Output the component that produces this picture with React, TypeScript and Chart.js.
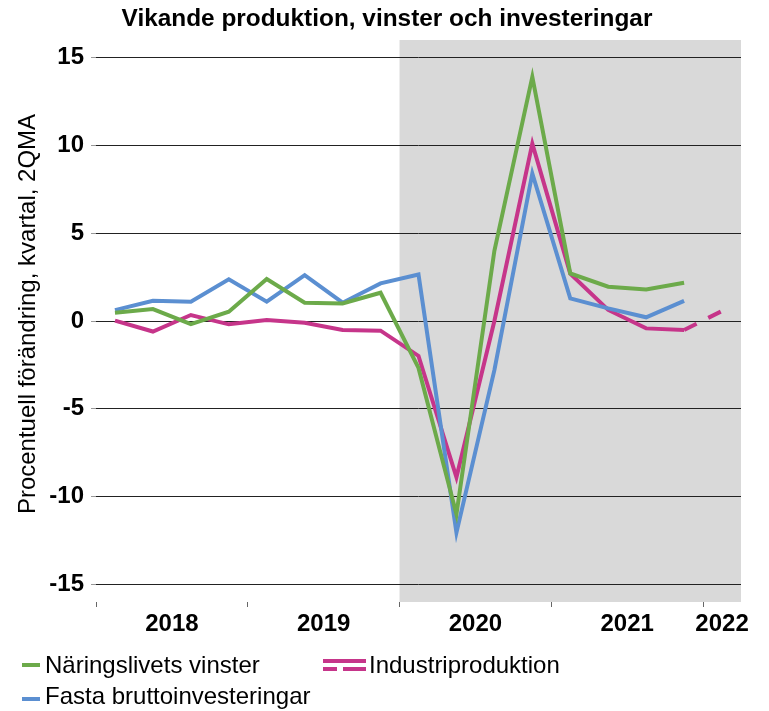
import React, { useEffect, useRef } from 'react';
import { Chart, registerables } from 'chart.js';

Chart.register(...registerables);

const quarters = [
  '2018Q1', '2018Q2', '2018Q3', '2018Q4',
  '2019Q1', '2019Q2', '2019Q3', '2019Q4',
  '2020Q1', '2020Q2', '2020Q3', '2020Q4',
  '2021Q1', '2021Q2', '2021Q3', '2021Q4',
  '2022Q1',
];
const yearLabels = ['2018', '2019', '2020', '2021', '2022'];
const yTicks = [-15, -10, -5, 0, 5, 10, 15];

const vinster = [0.47, 0.68, -0.18, 0.53, 2.39, 1.04, 1.0, 1.61, -2.67, -11.0, 4.0, 13.9, 2.71, 1.95, 1.8, 2.18, null];
const industri = [0.02, -0.6, 0.34, -0.19, 0.06, -0.1, -0.51, -0.55, -1.99, -8.9, 0.0, 10.1, 2.7, 0.63, -0.42, -0.51, 0.57];
const investeringar = [0.62, 1.15, 1.1, 2.37, 1.1, 2.61, 1.04, 2.14, 2.65, -12.05, -2.8, 8.4, 1.29, 0.72, 0.21, 1.15, null];

const lastActualIndustri = '2021Q4';
const shadeFrom = '2020Q1';

const title = 'Vikande produktion, vinster och investeringar';
const yTitle = 'Procentuell förändring, kvartal, 2QMA';
const names = ['Näringslivets vinster', 'Industriproduktion', 'Fasta bruttoinvesteringar'];

const GREEN = '#6caa4a';
const PINK = '#c6358a';
const BLUE = '#5b8fd1';
const FONT = "'Liberation Sans', Arial, sans-serif";

export default function App() {
  const ref = useRef<HTMLCanvasElement | null>(null);

  useEffect(() => {
    const canvas = ref.current;
    if (!canvas) return;
    const n = quarters.length;
    const toPts = (arr: (number | null)[]) => arr.map((v, i) => ({ x: i + 0.5, y: v }));

    const boundaries: number[] = [];
    const labelMap = new Map<number, string>();
    yearLabels.forEach((yr, k) => {
      const start = k * 4;
      const end = Math.min(start + 4, n);
      if (start < n) boundaries.push(start);
      labelMap.set((start + end) / 2, yr);
    });
    const xTickValues = [...boundaries, ...Array.from(labelMap.keys())].sort((a, b) => a - b);
    const lastIdx = quarters.indexOf(lastActualIndustri);
    const shadeIdx = quarters.indexOf(shadeFrom);

    const shadePlugin = {
      id: 'shade',
      beforeDraw(chart: any) {
        const { ctx, chartArea, scales } = chart;
        const x0 = scales.x.getPixelForValue(shadeIdx);
        const x1 = scales.x.getPixelForValue(n);
        ctx.save();
        ctx.fillStyle = '#d9d9d9';
        ctx.fillRect(x0, chartArea.top, x1 - x0, chartArea.bottom - chartArea.top);
        ctx.restore();
      },
    };

    const chart = new Chart(canvas, {
      type: 'line',
      data: {
        datasets: [
          {
            label: names[0],
            data: toPts(vinster),
            borderColor: GREEN,
            borderWidth: 4,
            pointRadius: 0,
            borderJoinStyle: 'miter',
            tension: 0,
            order: 0,
          },
          {
            label: names[1],
            data: toPts(industri),
            borderColor: PINK,
            borderWidth: 4,
            pointRadius: 0,
            borderJoinStyle: 'miter',
            tension: 0,
            order: 2,
            segment: {
              borderDash: (ctx: any) => (ctx.p0DataIndex >= lastIdx ? [14, 13] : undefined),
            },
          },
          {
            label: names[2],
            data: toPts(investeringar),
            borderColor: BLUE,
            borderWidth: 4,
            pointRadius: 0,
            borderJoinStyle: 'miter',
            tension: 0,
            order: 1,
          },
        ],
      },
      options: {
        responsive: false,
        animation: false,
        events: [],
        layout: { padding: { top: 40, right: 28, left: 0, bottom: 0 } },
        plugins: {
          legend: { display: false },
          tooltip: { enabled: false },
          title: { display: false },
        },
        scales: {
          x: {
            type: 'linear',
            min: 0,
            max: n,
            border: { display: false },
            grid: {
              drawOnChartArea: false,
              drawTicks: true,
              tickLength: 5,
              lineWidth: 1,
              color: (ctx: any) =>
                ctx.tick && boundaries.includes(ctx.tick.value) ? '#666' : 'rgba(0,0,0,0)',
            },
            afterBuildTicks: (scale: any) => {
              scale.ticks = xTickValues.map((v) => ({ value: v }));
            },
            afterFit: (scale: any) => {
              scale.height = 109;
            },
            ticks: {
              autoSkip: false,
              maxRotation: 0,
              minRotation: 0,
              padding: 3,
              color: '#000',
              font: { family: FONT, size: 24, weight: 'bold' },
              callback: (v: any) => labelMap.get(Number(v)) ?? '',
            },
          },
          y: {
            min: -16,
            max: 16,
            border: { display: false },
            grid: {
              color: '#222',
              lineWidth: 1,
              drawTicks: true,
              tickLength: 5,
              tickColor: '#999',
            },
            afterBuildTicks: (scale: any) => {
              scale.ticks = yTicks.map((v) => ({ value: v }));
            },
            afterFit: (scale: any) => {
              scale.width = 96;
            },
            ticks: {
              padding: 7,
              color: '#000',
              font: { family: FONT, size: 24, weight: 'bold' },
              callback: (v: any) => String(v),
            },
            title: { display: false },
          },
        },
      },
      plugins: [shadePlugin],
    } as any);

    return () => chart.destroy();
  }, []);

  const textStyle: React.CSSProperties = {
    position: 'absolute',
    fontFamily: FONT,
    fontSize: 24,
    lineHeight: '28px',
    color: '#000',
    whiteSpace: 'nowrap',
  };
  const bar = (left: number, top: number, width: number, color: string): React.CSSProperties => ({
    position: 'absolute',
    left,
    top,
    width,
    height: 4,
    background: color,
  });

  const yTitleW = 440;
  const yTitleCx = 26.5;
  const yTitleCy = 314;

  return (
    <div style={{ position: 'absolute', left: 0, top: 0, width: 769, height: 711, background: '#fff', overflow: 'hidden' }}>
      <canvas ref={ref} width={769} height={711} style={{ position: 'absolute', left: 0, top: 0, width: 769, height: 711, display: 'block' }} />
      <div
        style={{
          position: 'absolute',
          left: 0,
          top: 4,
          width: 774,
          textAlign: 'center',
          fontFamily: FONT,
          fontWeight: 'bold',
          fontSize: 24.4,
          lineHeight: '28px',
          color: '#000',
          whiteSpace: 'nowrap',
        }}
      >
        {title}
      </div>
      <div
        style={{
          ...textStyle,
          left: yTitleCx - yTitleW / 2,
          top: yTitleCy - 14,
          width: yTitleW,
          height: 28,
          textAlign: 'center',
          transform: 'rotate(-90deg)',
          transformOrigin: '50% 50%',
        }}
      >
        {yTitle}
      </div>
      <div style={bar(22, 663, 18, GREEN)} />
      <div style={{ ...textStyle, left: 45, top: 651 }}>{names[0]}</div>
      <div style={bar(323, 659, 43, PINK)} />
      <div style={bar(323, 667, 14, PINK)} />
      <div style={bar(343, 667, 23, PINK)} />
      <div style={{ ...textStyle, left: 369, top: 651 }}>{names[1]}</div>
      <div style={bar(22, 697, 18, BLUE)} />
      <div style={{ ...textStyle, left: 45, top: 682 }}>{names[2]}</div>
    </div>
  );
}
